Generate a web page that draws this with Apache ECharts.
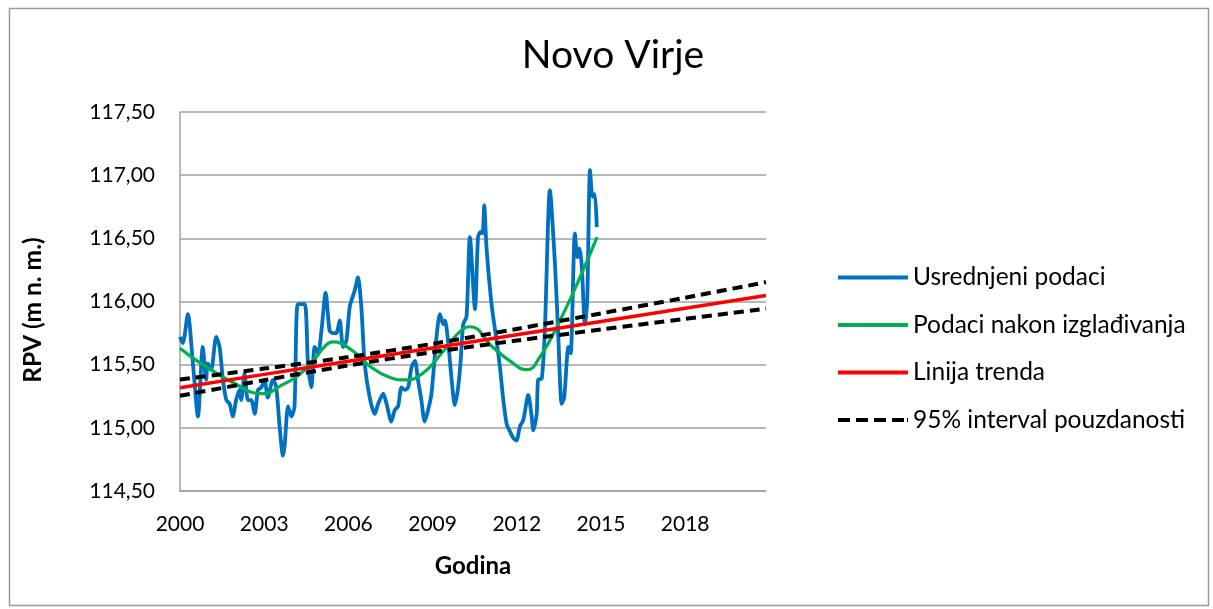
<!DOCTYPE html>
<html>
<head>
<meta charset="utf-8">
<title>Novo Virje</title>
<script src="https://cdn.jsdelivr.net/npm/echarts@6/dist/echarts.min.js"></script>
<style>
  html, body { margin: 0; padding: 0; background: #fff; }
  #chart { width: 1213px; height: 609px; }
</style>
</head>
<body>
<div id="chart"></div>
<script>
// Averaged groundwater level readings (year, m a.s.l.)
const avgYears = [
  2000.00, 2000.10, 2000.28, 2000.46, 2000.64, 2000.81, 2000.93, 2000.99, 2001.11, 2001.29,
  2001.41, 2001.53, 2001.65, 2001.77, 2001.88, 2002.00, 2002.12, 2002.18, 2002.30, 2002.42,
  2002.54, 2002.66, 2002.78, 2002.90, 2003.01, 2003.13, 2003.31, 2003.43, 2003.55, 2003.67,
  2003.73, 2003.85, 2003.97, 2004.08, 2004.20, 2004.44, 2004.56, 2004.68, 2004.80, 2004.92,
  2005.04, 2005.19, 2005.33, 2005.45, 2005.57, 2005.69, 2005.81, 2005.93, 2006.05, 2006.23,
  2006.34, 2006.46, 2006.58, 2006.76, 2006.94, 2007.06, 2007.24, 2007.36, 2007.53, 2007.65,
  2007.77, 2007.89, 2008.01, 2008.13, 2008.25, 2008.37, 2008.48, 2008.60, 2008.72, 2008.84,
  2008.96, 2009.14, 2009.26, 2009.38, 2009.44, 2009.55, 2009.68, 2009.79, 2009.91, 2010.00,
  2010.09, 2010.21, 2010.33, 2010.51, 2010.62, 2010.71, 2010.78, 2010.84, 2010.92, 2011.10,
  2011.28, 2011.40, 2011.52, 2011.64, 2011.76, 2011.87, 2011.99, 2012.11, 2012.23, 2012.41,
  2012.53, 2012.59, 2012.71, 2012.76, 2012.89, 2013.00, 2013.18, 2013.36, 2013.48, 2013.60,
  2013.69, 2013.84, 2013.92, 2014.07, 2014.16, 2014.23, 2014.31, 2014.43, 2014.51, 2014.61,
  2014.70, 2014.78, 2014.85
];
const avgLevels = [
  115.72, 115.67, 115.90, 115.51, 115.09, 115.64, 115.38, 115.51, 115.46, 115.72,
  115.64, 115.38, 115.22, 115.19, 115.09, 115.22, 115.30, 115.22, 115.43, 115.22,
  115.22, 115.11, 115.30, 115.32, 115.38, 115.24, 115.38, 115.32, 115.01, 114.78,
  114.86, 115.17, 115.09, 115.17, 115.98, 115.98, 115.51, 115.32, 115.64, 115.59,
  115.77, 116.07, 115.77, 115.75, 115.75, 115.85, 115.64, 115.69, 115.96, 116.09,
  116.19, 115.96, 115.51, 115.24, 115.11, 115.19, 115.27, 115.19, 115.05, 115.14,
  115.17, 115.32, 115.30, 115.32, 115.48, 115.53, 115.38, 115.22, 115.05, 115.14,
  115.27, 115.72, 115.90, 115.82, 115.85, 115.69, 115.38, 115.18, 115.32, 115.53,
  115.82, 115.88, 116.51, 115.94, 116.51, 116.55, 116.54, 116.76, 116.43, 115.98,
  115.69, 115.48, 115.22, 115.03, 114.97, 114.92, 114.90, 115.01, 115.06, 115.26,
  115.09, 114.98, 115.11, 115.38, 115.39, 115.77, 116.88, 116.30, 115.72, 115.19,
  115.24, 115.64, 115.59, 116.54, 116.35, 116.42, 116.30, 115.82, 116.01, 117.04,
  116.83, 116.85, 116.59
];

// Smoothed curve
const smoothYears = [
  2000.00, 2000.61, 2001.32, 2002.04, 2002.57, 2002.93, 2003.64, 2004.25, 2004.85, 2005.14,
  2005.44, 2006.15, 2006.75, 2007.46, 2008.00, 2008.64, 2009.36, 2010.14, 2010.32, 2011.14,
  2011.75, 2012.36, 2012.82, 2013.54, 2014.25, 2014.86
];
const smoothLevels = [
  115.63, 115.53, 115.43, 115.34, 115.28, 115.27, 115.34, 115.42, 115.56, 115.64,
  115.68, 115.61, 115.49, 115.40, 115.38, 115.43, 115.60, 115.79, 115.80, 115.64,
  115.53, 115.46, 115.56, 115.85, 116.19, 116.51
];

// Linear trend and its 95% confidence band
const trendYears  = [2000, 2003, 2006, 2009, 2012, 2015, 2018, 2020.88];
const trendLevels = [115.318, 115.423, 115.527, 115.632, 115.737, 115.842, 115.946, 116.048];
const upperLevels = [115.382, 115.469, 115.560, 115.665, 115.783, 115.906, 116.030, 116.153];
const lowerLevels = [115.254, 115.377, 115.494, 115.599, 115.691, 115.778, 115.862, 115.943];

const xTicks = [2000, 2003, 2006, 2009, 2012, 2015, 2018];
const seriesNames = [
  'Usrednjeni podaci',
  'Podaci nakon izglađivanja',
  'Linija trenda',
  '95% interval pouzdanosti'
];

const pairs = (xs, ys) => xs.map((x, i) => [x, ys[i]]);
const FONT = 'Lato, "Noto Sans", sans-serif';

// legend swatches: a solid bar, and a dashed bar ending in a short dot
const SOLID_ICON = 'path://M0,0H70V4H0Z';
const DASH_ICON = 'path://M0,0H12V4H0Z M18,0H30V4H18Z M36,0H48V4H36Z M54,0H66V4H54Z M69,0H70V4H69Z';

const chart = echarts.init(document.getElementById('chart'), null, { renderer: 'canvas' });

const lineBase = { type: 'line', symbol: 'none', showSymbol: false, animation: false, z: 2 };

chart.setOption({
  backgroundColor: '#ffffff',
  animation: false,
  title: {
    text: 'Novo Virje',
    left: 608,
    top: 31,
    textAlign: 'center',
    textStyle: { fontFamily: FONT, fontSize: 39, fontWeight: 'normal', color: '#000' }
  },
  grid: { left: 180, top: 112, right: 447, bottom: 118, containLabel: false },
  legend: {
    orient: 'vertical',
    left: 833,
    top: 260,
    itemWidth: 70,
    itemHeight: 4,
    itemGap: 22.5,
    data: [
      { name: seriesNames[0], icon: SOLID_ICON },
      { name: seriesNames[1], icon: SOLID_ICON },
      { name: seriesNames[2], icon: SOLID_ICON },
      { name: seriesNames[3], icon: DASH_ICON }
    ],
    textStyle: { fontFamily: FONT, fontSize: 24.5, color: '#000' }
  },
  xAxis: {
    type: 'value',
    min: 2000,
    max: 2020.88,
    interval: 3,
    name: 'Godina',
    nameLocation: 'middle',
    nameGap: 63,
    nameMoveOverlap: false,
    nameTextStyle: { fontFamily: FONT, fontSize: 24, fontWeight: 'bold', color: '#000' },
    axisLine: { show: true, lineStyle: { color: '#a0a0a0', width: 1.5 } },
    axisTick: { show: false },
    splitLine: { show: false },
    axisLabel: {
      fontFamily: FONT, fontSize: 21, color: '#000', margin: 23,
      showMaxLabel: false,
      formatter: v => (xTicks.indexOf(Math.round(v * 100) / 100) >= 0 ? String(v) : '')
    }
  },
  yAxis: {
    type: 'value',
    min: 114.5,
    max: 117.5,
    interval: 0.5,
    axisLine: { show: true, lineStyle: { color: '#a0a0a0', width: 1.5 } },
    axisTick: { show: false },
    splitLine: { show: true, lineStyle: { color: '#a0a0a0', width: 1.5 } },
    axisLabel: {
      fontFamily: FONT, fontSize: 21, color: '#000', margin: 25,
      formatter: v => v.toFixed(2).replace('.', ',')
    }
  },
  series: [
    Object.assign({}, lineBase, {
      name: seriesNames[0],
      data: pairs(avgYears, avgLevels),
      smooth: 0.25,
      color: '#0070C0',
      lineStyle: { color: '#0070C0', width: 3.8 }
    }),
    Object.assign({}, lineBase, {
      name: seriesNames[1],
      data: pairs(smoothYears, smoothLevels),
      smooth: 0.5,
      color: '#00B050',
      lineStyle: { color: '#00B050', width: 3.2 },
      z: 3
    }),
    Object.assign({}, lineBase, {
      name: seriesNames[2],
      data: pairs(trendYears, trendLevels),
      color: '#FF0000',
      lineStyle: { color: '#FF0000', width: 3.5 },
      z: 4
    }),
    Object.assign({}, lineBase, {
      name: seriesNames[3],
      data: pairs(trendYears, upperLevels),
      smooth: 0.3,
      color: '#000000',
      lineStyle: { color: '#000000', width: 4, type: [10, 6] },
      z: 5
    }),
    Object.assign({}, lineBase, {
      name: seriesNames[3],
      data: pairs(trendYears, lowerLevels),
      smooth: 0.3,
      color: '#000000',
      lineStyle: { color: '#000000', width: 4, type: [10, 6] },
      z: 5
    })
  ],
  graphic: [
    {
      // vertical axis title
      type: 'text',
      x: 33,
      y: 310,
      rotation: Math.PI / 2,
      style: {
        text: 'RPV (m n. m.)',
        fontFamily: FONT,
        fontSize: 24.5,
        fontWeight: 'bold',
        fill: '#000',
        align: 'center',
        verticalAlign: 'middle'
      },
      silent: true
    },
    {
      type: 'rect',
      left: 7, top: 6,
      shape: { x: 0, y: 0, width: 1199, height: 597 },
      style: { fill: 'none', stroke: '#9a9a9a', lineWidth: 1.5 },
      silent: true,
      z: -1
    }
  ]
});
</script>
</body>
</html>
